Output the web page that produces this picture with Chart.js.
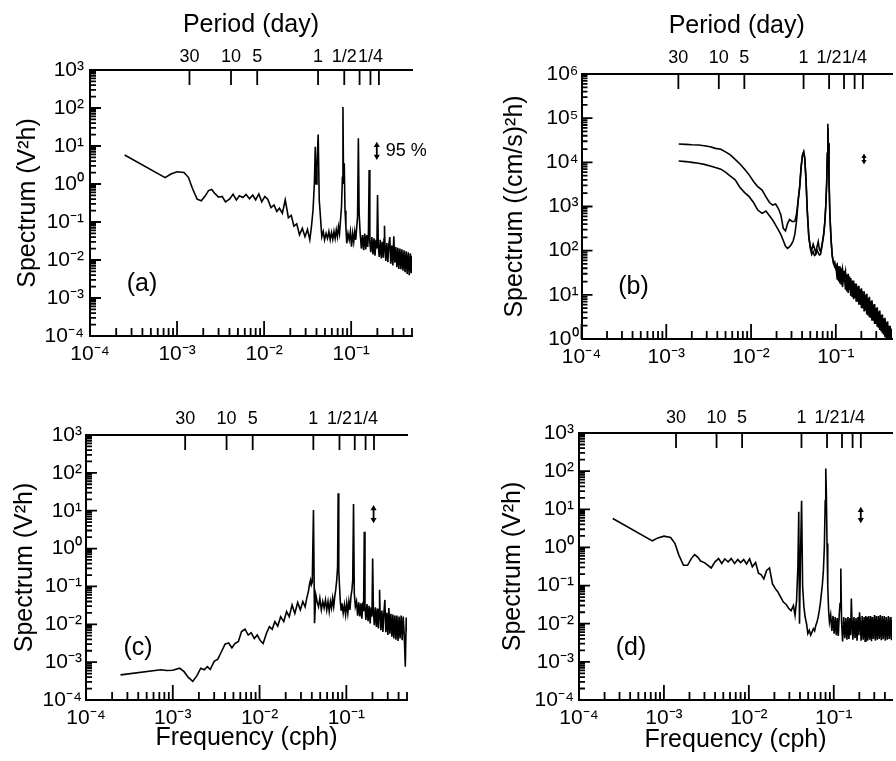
<!DOCTYPE html>
<html>
<head>
<meta charset="utf-8">
<script src="https://cdn.jsdelivr.net/npm/chart.js@4.4.1/dist/chart.umd.min.js"></script>
<style>
  html, body { margin: 0; padding: 0; background: #fff; overflow: hidden; }
  canvas { position: absolute; }
</style>
</head>
<body>
<canvas id="panelA" width="440" height="380" style="left:0px;top:0px"></canvas>
<canvas id="panelB" width="406" height="380" style="left:490px;top:0px"></canvas>
<canvas id="panelC" width="440" height="381" style="left:0px;top:380px"></canvas>
<canvas id="panelD" width="406" height="381" style="left:490px;top:380px"></canvas>
<script>
// frequency grid (cph) shared by panels a, c, d
const freq = [
  0.00025, 0.00073, 0.00085, 0.001, 0.0012, 0.00135, 0.0015, 0.0017, 0.0019, 0.0021,
  0.0023, 0.0025, 0.0027, 0.003, 0.0033, 0.0036, 0.004, 0.0044, 0.0048, 0.0052,
  0.0057, 0.0062, 0.0068, 0.0074, 0.008, 0.0087, 0.0094, 0.0102, 0.011, 0.012,
  0.013, 0.014, 0.015, 0.0162, 0.0175, 0.019, 0.0205, 0.022, 0.0237, 0.0255,
  0.0275, 0.0295, 0.0315, 0.0335, 0.035, 0.0365, 0.0378, 0.0387, 0.0395, 0.0405,
  0.0418, 0.043, 0.0445, 0.046, 0.0478, 0.0495, 0.0515, 0.0535, 0.0555, 0.0575,
  0.0595, 0.0615, 0.0635, 0.0655, 0.0675, 0.0695, 0.0715, 0.0735, 0.0755, 0.0775,
  0.0793, 0.0805, 0.0818, 0.0833, 0.085, 0.087, 0.089, 0.092, 0.095, 0.098,
  0.101, 0.104, 0.107, 0.11, 0.113, 0.116, 0.1185, 0.121, 0.1235, 0.127,
  0.131, 0.135, 0.139, 0.143, 0.147, 0.151, 0.155, 0.158, 0.161, 0.164,
  0.168, 0.173, 0.178, 0.183, 0.188, 0.193, 0.1975, 0.201, 0.205, 0.21,
  0.216, 0.222, 0.228, 0.234, 0.2385, 0.2415, 0.245, 0.25, 0.257, 0.264,
  0.271, 0.278, 0.285, 0.293, 0.301, 0.309, 0.317, 0.326, 0.335, 0.344,
  0.353, 0.363, 0.373, 0.383, 0.394, 0.405, 0.416, 0.428, 0.44, 0.452,
  0.465, 0.478, 0.49, 0.5
];

// (a) spectrum, V^2 h
const specA = [
  5.8, 1.47, 1.83, 2.1, 2.0, 1.5, 0.77, 0.40, 0.36, 0.48,
  0.67, 0.72, 0.57, 0.45, 0.47, 0.34, 0.40, 0.54, 0.38, 0.49,
  0.44, 0.53, 0.41, 0.51, 0.38, 0.55, 0.34, 0.47, 0.40, 0.24,
  0.28, 0.19, 0.23, 0.17, 0.38, 0.13, 0.15, 0.078, 0.089, 0.046,
  0.068, 0.041, 0.064, 0.034, 0.076, 0.21, 1.05, 9.6, 1.0, 2.8,
  20, 0.38, 0.125, 0.041, 0.056, 0.034, 0.05, 0.037, 0.056, 0.034,
  0.053, 0.035, 0.056, 0.037, 0.062, 0.041, 0.075, 0.05, 0.113, 0.25,
  1.5, 107, 1.0, 3.5, 0.2, 0.075, 0.0275, 0.05, 0.034, 0.056,
  0.0224, 0.05, 0.03, 0.056, 0.034, 0.075, 0.138, 16, 0.17, 0.05,
  0.02, 0.045, 0.018, 0.05, 0.019, 0.045, 0.022, 0.05, 2.35, 0.03,
  0.016, 0.04, 0.014, 0.037, 0.013, 0.034, 0.02, 0.51, 0.025, 0.012,
  0.034, 0.011, 0.03, 0.0115, 0.036, 0.08, 0.02, 0.0095, 0.028, 0.0088,
  0.026, 0.04, 0.008, 0.024, 0.0072, 0.042, 0.0085, 0.022, 0.0065, 0.021,
  0.0058, 0.02, 0.0057, 0.019, 0.0052, 0.018, 0.0048, 0.017, 0.0043, 0.016,
  0.004, 0.015, 0.0045, 0.013
];

// (c) spectrum, V^2 h
const specC = [
  4.6e-4, 6.3e-4, 6.0e-4, 6.1e-4, 6.9e-4, 5.6e-4, 4.0e-4, 3.1e-4, 4.4e-4, 6.9e-4,
  6.3e-4, 7.6e-4, 6.4e-4, 1.05e-3, 1.2e-3, 1.8e-3, 3.0e-3, 3.2e-3, 2.4e-3, 3.1e-3,
  3.5e-3, 6.4e-3, 7.4e-3, 5.2e-3, 6.0e-3, 4.2e-3, 5.2e-3, 3.7e-3, 3.1e-3, 5.8e-3,
  8.7e-3, 7.4e-3, 0.0118, 9.0e-3, 0.0159, 0.0118, 0.0217, 0.0159, 0.0325, 0.0194,
  0.0375, 0.024, 0.04, 0.029, 0.049, 0.073, 0.12, 0.147, 0.11, 0.13,
  10.5, 0.0107, 0.06, 0.04, 0.029, 0.049, 0.024, 0.04, 0.027, 0.044,
  0.024, 0.040, 0.0218, 0.040, 0.027, 0.049, 0.0295, 0.054, 0.082, 0.147,
  0.33, 29, 0.27, 0.11, 0.044, 0.024, 0.036, 0.0197, 0.033, 0.0178,
  0.036, 0.0197, 0.040, 0.024, 0.054, 0.081, 0.147, 15, 0.066, 0.0295,
  0.040, 0.017, 0.038, 0.016, 0.036, 0.014, 0.038, 0.022, 2.8, 0.03,
  0.013, 0.034, 0.012, 0.031, 0.0105, 0.028, 0.016, 0.55, 0.024, 0.0095,
  0.028, 0.0085, 0.026, 0.0078, 0.025, 0.082, 0.02, 0.007, 0.023, 0.0063,
  0.021, 0.044, 0.0062, 0.02, 0.0052, 0.027, 0.0056, 0.019, 0.0047, 0.018,
  0.0042, 0.017, 0.0039, 0.017, 0.0036, 0.016, 0.0042, 0.017, 0.0038, 0.016,
  0.005, 0.00076, 0.015, 0.0065
];

// (d) spectrum, V^2 h
const specD = [
  5.75, 1.49, 1.78, 1.98, 1.82, 1.26, 0.63, 0.34, 0.34, 0.51,
  0.65, 0.56, 0.44, 0.40, 0.34, 0.29, 0.42, 0.51, 0.38, 0.50,
  0.42, 0.51, 0.38, 0.48, 0.40, 0.48, 0.37, 0.50, 0.31, 0.40,
  0.21, 0.19, 0.15, 0.25, 0.29, 0.11, 0.083, 0.068, 0.050, 0.037,
  0.032, 0.025, 0.022, 0.030, 0.0166, 0.041, 0.31, 8.6, 0.01, 0.46,
  16.7, 0.093, 0.028, 0.015, 0.01, 0.0055, 0.0067, 0.005, 0.0061, 0.0074,
  0.0065, 0.0091, 0.011, 0.015, 0.022, 0.034, 0.062, 0.11, 0.25, 1.04,
  17, 117, 26, 1.27, 0.093, 0.022, 0.011, 0.017, 0.0065, 0.016,
  0.0055, 0.015, 0.005, 0.014, 0.0048, 0.017, 0.034, 0.28, 0.012, 0.0034,
  0.015, 0.0042, 0.014, 0.0038, 0.015, 0.004, 0.014, 0.005, 0.046, 0.012,
  0.0038, 0.015, 0.0042, 0.014, 0.0036, 0.015, 0.005, 0.02, 0.012, 0.0036,
  0.016, 0.0038, 0.015, 0.0035, 0.016, 0.0055, 0.015, 0.0036, 0.016, 0.0038,
  0.016, 0.0035, 0.015, 0.004, 0.017, 0.0036, 0.016, 0.0038, 0.016, 0.004,
  0.017, 0.0037, 0.016, 0.0039, 0.016, 0.0036, 0.015, 0.0038, 0.016, 0.004,
  0.015, 0.0037, 0.015, 0.004
];

// (b) frequency grid and the two current spectra, (cm/s)^2 h
const freqB = [
  0.0014, 0.0017, 0.002, 0.0024, 0.0028, 0.0033, 0.0038, 0.0044, 0.005, 0.0057,
  0.0065, 0.0074, 0.0084, 0.0095, 0.0107, 0.012, 0.0135, 0.015, 0.0165, 0.018,
  0.0195, 0.021, 0.0225, 0.024, 0.0255, 0.027, 0.0285, 0.03, 0.0315, 0.033,
  0.0345, 0.036, 0.0375, 0.039, 0.0405, 0.0418, 0.043, 0.0445, 0.046, 0.048,
  0.05, 0.052, 0.054, 0.056, 0.058, 0.06, 0.062, 0.064, 0.066, 0.068,
  0.07, 0.072, 0.074, 0.076, 0.078, 0.0795, 0.0805, 0.0815, 0.083, 0.085,
  0.088, 0.091, 0.094, 0.097, 0.1, 0.104, 0.108, 0.112, 0.116, 0.12,
  0.125, 0.13, 0.135, 0.14, 0.145, 0.15, 0.156, 0.162, 0.168, 0.174,
  0.18, 0.187, 0.194, 0.201, 0.208, 0.216, 0.224, 0.232, 0.24, 0.249,
  0.258, 0.267, 0.277, 0.287, 0.297, 0.308, 0.319, 0.33, 0.342, 0.354,
  0.367, 0.38, 0.394, 0.408, 0.422, 0.437, 0.452, 0.468, 0.484, 0.5
];
const specBUpper = [
  26000, 25500, 25000, 24700, 23800, 22500, 20700, 19700, 17300, 14700,
  11700, 9200, 7000, 5200, 3700, 2810, 2350, 1660, 1230, 1080,
  1140, 900, 640, 320, 280, 415, 510, 470, 454, 470,
  700, 1400, 2810, 8000, 14700, 17300, 12400, 4000, 830, 207,
  123, 103, 140, 113, 89, 123, 160, 107, 95, 123,
  170, 247, 415, 970, 3300, 16000, 75000, 27000, 4700, 700,
  170, 73, 52, 56, 40, 48, 20, 44, 17, 38,
  22, 34, 12, 30, 13, 24, 9, 21, 8.5, 18,
  7, 16, 6, 14, 5, 12, 4.4, 10.5, 3.4, 9,
  3.0, 7.5, 2.6, 6.2, 2.2, 5.2, 1.8, 4.4, 1.5, 3.6,
  1.25, 3.0, 1.05, 2.5, 0.9, 2.0, 0.8, 1.7, 0.7, 1.4
];
const specBLower = [
  10700, 10400, 10000, 9500, 9000, 8300, 7600, 7000, 6000, 4900,
  4000, 2700, 2060, 1670, 1230, 830, 700, 790, 620, 495,
  380, 294, 230, 170, 126, 113, 123, 140, 170, 247,
  495, 1400, 2810, 8000, 14700, 17300, 12400, 4000, 830, 207,
  113, 82, 95, 78, 82, 103, 89, 80, 82, 113,
  160, 230, 415, 970, 3300, 16000, 59000, 27000, 4700, 700,
  170, 73, 52, 43, 47, 22, 45, 18, 40, 15,
  35, 13, 29, 11, 26, 9.5, 21, 8, 18, 7,
  15.5, 6, 13.5, 5, 12, 4.2, 10, 3.6, 8.5, 3.1,
  7.2, 2.6, 6.0, 2.2, 5.0, 1.9, 4.2, 1.6, 3.5, 1.35,
  2.9, 1.1, 2.4, 0.95, 2.0, 0.85, 1.7, 0.75, 1.4, 0.65
];

// axis ticks and labels
const xTicks = [1e-4, 1e-3, 1e-2, 1e-1];
const xTickLabels = ['10⁻⁴', '10⁻³', '10⁻²', '10⁻¹'];
const yTicksV = [1e-4, 1e-3, 1e-2, 1e-1, 1, 10, 100, 1000];
const yTickLabelsV = ['10⁻⁴', '10⁻³', '10⁻²', '10⁻¹', '10⁰', '10¹', '10²', '10³'];
const yTicksB = [1, 10, 100, 1e3, 1e4, 1e5, 1e6];
const yTickLabelsB = ['10⁰', '10¹', '10²', '10³', '10⁴', '10⁵', '10⁶'];
const periodDays = [30, 10, 5, 1, 1 / 2, 1 / 3, 1 / 4, 1 / 5];
const periodLabels = ['30', '10', '5', '1', '1/2', '', '1/4', ''];

// 95 % confidence bars (a, b, c, d)
const arrowFreq = [0.197, 0.215, 0.206, 0.208];
const arrowLow = [5.3, 10400, 5.75, 5.3];
const arrowHigh = [10.5, 13500, 11.5, 9.4];

const FONT = 'Arial, "Liberation Sans", Helvetica, sans-serif';
Chart.defaults.font.family = FONT;
Chart.defaults.color = '#000';

// tick marks pointing into the plot
const inwardTicks = {
  id: 'inwardTicks',
  afterDraw(chart) {
    const {ctx, chartArea: a, scales} = chart;
    const xs = scales.x, ys = scales.y, ps = scales.period;
    ctx.save();
    ctx.strokeStyle = '#000';
    ctx.lineWidth = 1.8;
    ctx.beginPath();
    ys.ticks.forEach(t => {
      for (let k = 1; k <= 9; k++) {
        const v = t.value * k;
        if (v > ys.max * 1.0001) break;
        const py = ys.getPixelForValue(v);
        ctx.moveTo(a.left, py);
        ctx.lineTo(a.left + (k === 1 ? 11 : 6), py);
      }
    });
    xs.ticks.forEach(t => {
      for (let k = 1; k <= 9; k++) {
        const v = t.value * k;
        if (v > xs.max * 1.0001) break;
        const px = xs.getPixelForValue(v);
        ctx.moveTo(px, a.bottom);
        ctx.lineTo(px, a.bottom - (k === 1 ? 15 : 8));
      }
    });
    ps.ticks.forEach(t => {
      const px = ps.getPixelForValue(t.value);
      ctx.moveTo(px, a.top);
      ctx.lineTo(px, a.top + 15);
    });
    ctx.stroke();
    ctx.restore();
  }
};

// panel letter and the "95 %" note
const panelMarks = {
  id: 'panelMarks',
  afterDraw(chart, args, opts) {
    const {ctx, chartArea: a, scales} = chart;
    ctx.save();
    ctx.fillStyle = '#000';
    ctx.textBaseline = 'middle';
    ctx.textAlign = 'center';
    ctx.font = '25px ' + FONT;
    ctx.fillText(opts.letter, a.left + 52, a.bottom - 52);
    if (opts.note) {
      ctx.font = '18px ' + FONT;
      ctx.textAlign = 'left';
      ctx.fillText(opts.note, scales.x.getPixelForValue(opts.noteAt[0]), scales.y.getPixelForValue(opts.noteAt[1]));
    }
    ctx.restore();
  }
};

function spectrumChart(id, cfg) {
  const datasets = cfg.series.map(s => ({
    data: s.f.map((f, i) => ({x: f, y: s.v[i]})),
    borderColor: '#000',
    borderWidth: 1.6,
    pointRadius: 0,
    tension: 0,
    fill: false
  }));
  const i = cfg.arrow;
  datasets.push({
    data: [{x: arrowFreq[i], y: arrowLow[i]}, {x: arrowFreq[i], y: arrowHigh[i]}],
    borderColor: '#000',
    borderWidth: 1.8,
    pointStyle: 'triangle',
    pointRadius: cfg.arrowR,
    pointRotation: [180, 0],
    pointBackgroundColor: '#000',
    pointBorderColor: '#000',
    pointBorderWidth: 0
  });
  const border = {display: true, color: '#000', width: 2};
  const noGrid = {display: false, drawTicks: false};
  return new Chart(document.getElementById(id), {
    type: 'line',
    data: {datasets},
    options: {
      responsive: false,
      animation: false,
      devicePixelRatio: 1,
      layout: {padding: {left: 0, top: 0, bottom: 0, right: cfg.padRight}},
      plugins: {
        legend: {display: false},
        tooltip: {enabled: false},
        panelMarks: {letter: cfg.letter, note: cfg.note, noteAt: cfg.noteAt}
      },
      scales: {
        x: {
          type: 'logarithmic', position: 'bottom', min: 1e-4, max: cfg.xMax,
          afterFit: s => { s.height = cfg.bottomH; },
          afterBuildTicks: s => { s.ticks = xTicks.map(v => ({value: v})); },
          grid: noGrid, border,
          ticks: {autoSkip: false, maxRotation: 0, minRotation: 0, padding: cfg.xPad,
                  font: {size: 21}, callback: (v, k) => xTickLabels[k]},
          title: {display: !!cfg.xTitle, text: cfg.xTitle || '', font: {size: 25},
                  padding: {top: 0, bottom: cfg.xTitlePad || 0}}
        },
        period: {
          type: 'logarithmic', position: 'top', min: 1e-4, max: cfg.xMax,
          afterFit: s => { s.height = cfg.topH; },
          afterBuildTicks: s => { s.ticks = periodDays.map(d => ({value: 1 / (24 * d)})); },
          grid: noGrid, border,
          ticks: {autoSkip: false, maxRotation: 0, minRotation: 0, padding: cfg.pPad,
                  font: {size: 18}, callback: (v, k) => periodLabels[k]},
          title: {display: cfg.periodTitle, text: 'Period (day)', font: {size: 25},
                  padding: {top: cfg.pTitlePad || 0, bottom: 0}}
        },
        y: {
          type: 'logarithmic', position: 'left', min: cfg.yTicks[0], max: cfg.yTicks[cfg.yTicks.length - 1],
          afterFit: s => { s.width = cfg.leftW; },
          afterBuildTicks: s => { s.ticks = cfg.yTicks.map(v => ({value: v})); },
          grid: noGrid, border,
          ticks: {autoSkip: false, padding: cfg.yPad, font: {size: 21},
                  callback: (v, k) => cfg.yLabels[k]},
          title: {display: true, text: cfg.yTitle, font: {size: 25},
                  padding: {top: cfg.yTitlePad, bottom: 0}}
        }
      }
    },
    plugins: [inwardTicks, panelMarks]
  });
}

spectrumChart('panelA', {
  series: [{f: freq, v: specA}], arrow: 0, arrowR: 3.5,
  letter: '(a)', note: '95 %', noteAt: [0.25, 7.4],
  xMax: 0.5, padRight: 28, leftW: 90, topH: 70, bottomH: 44,
  yTicks: yTicksV, yLabels: yTickLabelsV, yTitle: 'Spectrum (V²h)', yTitlePad: 13, yPad: 6,
  xPad: 6, pPad: 2, periodTitle: true, pTitlePad: 10
});
spectrumChart('panelB', {
  series: [{f: freqB, v: specBUpper}, {f: freqB, v: specBLower}], arrow: 1, arrowR: 3,
  letter: '(b)',
  xMax: 0.46, padRight: 0, leftW: 91.5, topH: 74, bottomH: 41,
  yTicks: yTicksB, yLabels: yTickLabelsB, yTitle: 'Spectrum ((cm/s)²h)', yTitlePad: 10, yPad: 3,
  xPad: 6, pPad: 5, periodTitle: true, pTitlePad: 11
});
spectrumChart('panelC', {
  series: [{f: freq, v: specC}], arrow: 2, arrowR: 3.5,
  letter: '(c)',
  xMax: 0.5, padRight: 33, leftW: 86, topH: 55, bottomH: 61,
  yTicks: yTicksV, yLabels: yTickLabelsV, yTitle: 'Spectrum (V²h)', yTitlePad: 10, yPad: 4,
  xPad: 6, pPad: 5, periodTitle: false, xTitle: 'Frequency (cph)', xTitlePad: 8
});
spectrumChart('panelD', {
  series: [{f: freq, v: specD}], arrow: 3, arrowR: 3.5,
  letter: '(d)',
  xMax: 0.485, padRight: 0, leftW: 89, topH: 53, bottomH: 61,
  yTicks: yTicksV, yLabels: yTickLabelsV, yTitle: 'Spectrum (V²h)', yTitlePad: 8, yPad: 5,
  xPad: 6, pPad: 4, periodTitle: false, xTitle: 'Frequency (cph)', xTitlePad: 6
});
</script>
</body>
</html>
